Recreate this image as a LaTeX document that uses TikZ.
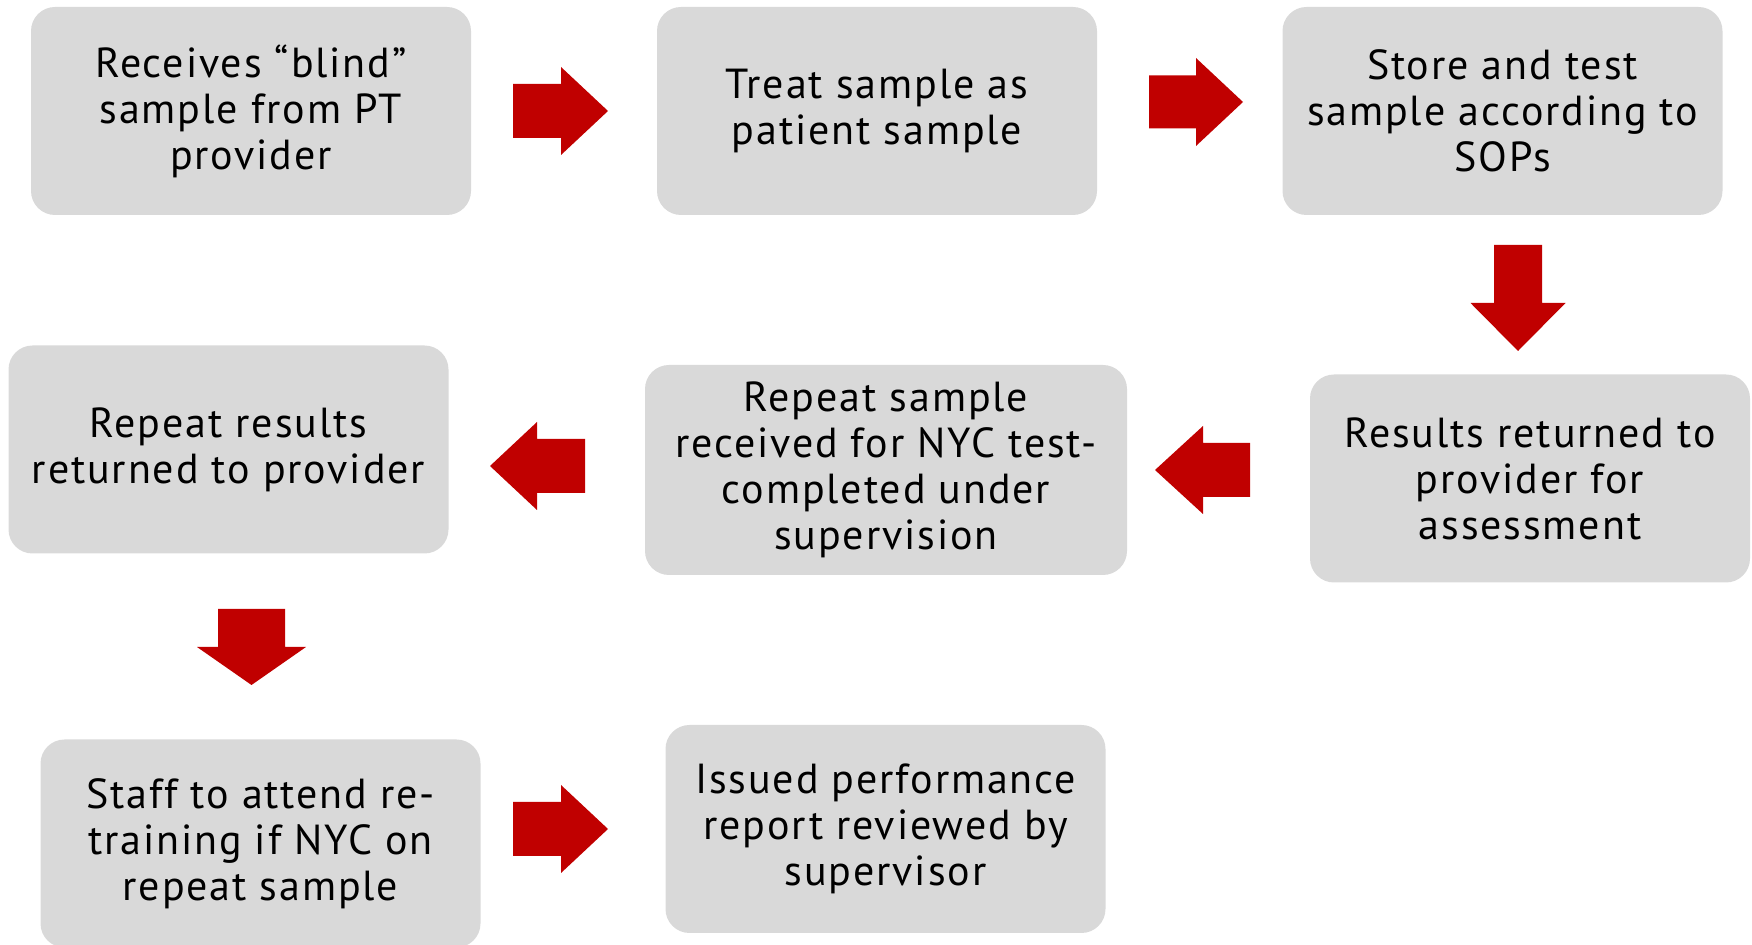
\documentclass[tikz,border=0pt]{standalone}
\usepackage{fontspec}
\setmainfont{PT Sans}[LetterSpace=4.5]
\usepackage{tikz}
\definecolor{boxgrey}{HTML}{D9D9D9}
\definecolor{flowred}{HTML}{C00000}
\tikzset{
  fig/.style={x=0.5pt,y=-0.5pt},
  stepbox/.style={fill=boxgrey,rounded corners=12pt,minimum width=220pt,minimum height=104pt,
    inner sep=0pt,align=center,font=\fontsize{21}{23}\selectfont},
  % fat block arrow: length/head length/head width/shaft width
  pics/blockarrow/.style args={#1/#2/#3/#4}{code={
    \fill[flowred] (-#1/2,-#4/2)--(#1/2-#2,-#4/2)--(#1/2-#2,-#3/2)--(#1/2,0)
      --(#1/2-#2,#3/2)--(#1/2-#2,#4/2)--(-#1/2,#4/2)--cycle;}}
}

\begin{document}
\begin{tikzpicture}[fig]
  \useasboundingbox (0,0) rectangle (1752,945);

  % top row
  \node[stepbox] (recv) at (251,111) {Receives “blind”\\sample from PT\\provider};
  \node[stepbox] (treat) at (877,111) {Treat sample as\\patient sample};
  \node[stepbox] (store) at (1502.5,111) {Store and test\\sample according to\\SOPs};
  \pic at (560.5,111) {blockarrow=95/47/88/54};
  \pic at (1196,102) {blockarrow=94/47/88/53};
  \pic[rotate=-90] at (1518,298) {blockarrow=106/48/95/48};

  % middle row, right to left
  \node[stepbox] (results) at (1530,478.5) {Results returned to\\provider for\\assessment};
  \node[stepbox,minimum width=241pt,minimum height=105pt] (repeat) at (886,470)
    {Repeat sample\\received for NYC test-\\completed under\\supervision};
  \node[stepbox] (reprt) at (228.5,449.5) {Repeat results\\returned to provider};
  \pic[rotate=180] at (1202.5,470) {blockarrow=95/48/88/54};
  \pic[rotate=180] at (537.5,466) {blockarrow=95/47/88/54};
  \pic[rotate=-90] at (251.5,647) {blockarrow=76/38/109/67};

  % bottom row
  \node[stepbox] (retrain) at (260.5,843.5) {Staff to attend re-\\training if NYC on\\repeat sample};
  \node[stepbox] (issued) at (885.5,829) {Issued performance\\report reviewed by\\supervisor};
  \pic at (560.5,829) {blockarrow=95/47/88/54};
\end{tikzpicture}
\end{document}
